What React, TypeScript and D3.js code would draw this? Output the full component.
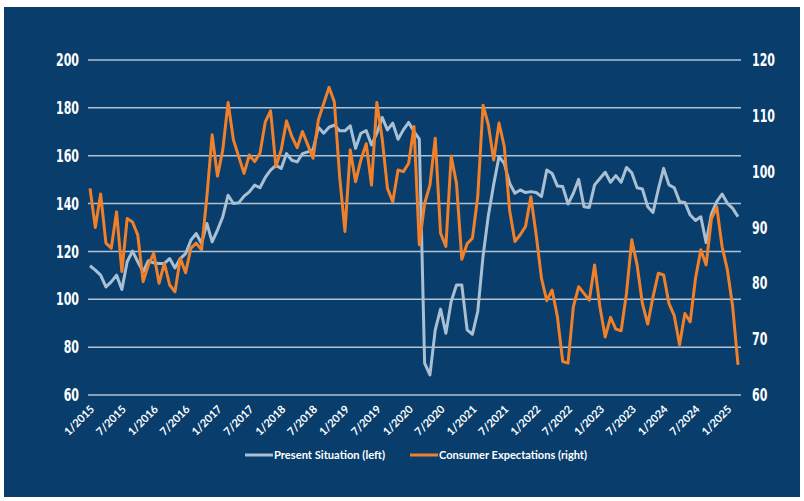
import React from "react";
import { scaleLinear, line } from "d3";

// monthly values, 1/2015 .. 3/2025
const presentSituation = [
  114.0, 112.2, 110.1, 105.2, 107.3, 110.1, 104.1, 115.7, 120.1, 115.7, 111.5, 116.1,
  115.2, 115.0, 115.0, 117.0, 113.1, 117.0, 119.1, 124.7, 127.5, 123.3, 131.7, 124.0,
  128.9, 134.5, 143.5, 140.0, 140.3, 143.1, 144.9, 147.7, 146.6, 150.9, 154.0, 156.0,
  154.7, 160.9, 158.1, 157.4, 160.9, 161.6, 162.5, 171.9, 169.4, 171.9, 172.8, 170.4,
  170.4, 172.5, 163.1, 169.4, 170.5, 164.5, 169.4, 176.0, 170.8, 173.6, 166.9, 170.8,
  173.9, 170.1, 166.9, 73.3, 68.4, 87.2, 95.9, 85.8, 99.1, 106.0, 106.0, 87.2,
  85.4, 94.9, 118.0, 135.0, 148.0, 159.6, 156.8, 148.5, 144.3, 145.7, 144.6, 145.0,
  144.6, 142.9, 154.0, 152.6, 147.3, 147.1, 139.8, 144.3, 150.1, 138.7, 138.4, 147.8,
  150.5, 153.1, 148.9, 151.7, 148.9, 155.1, 152.9, 146.6, 146.1, 138.7, 136.3, 146.0,
  154.7, 147.8, 146.6, 140.8, 140.5, 135.2, 132.9, 134.5, 123.7, 135.6, 140.8, 144.0,
  140.1, 138.0, 134.5,
];

const consumerExpectations = [
  97.0, 90.0, 96.0, 87.2, 86.3, 92.8, 82.1, 91.6, 91.0, 88.6, 80.3, 83.3,
  85.4, 80.0, 83.6, 79.7, 78.5, 84.5, 81.9, 86.3, 87.2, 86.0, 95.5, 106.6,
  99.2, 103.9, 112.4, 105.7, 102.7, 99.7, 103.0, 101.8, 103.3, 108.9, 110.9, 100.9,
  103.9, 109.1, 106.3, 104.3, 107.2, 104.8, 102.4, 109.3, 112.2, 115.1, 112.5, 99.1,
  89.3, 103.9, 98.2, 102.1, 105.0, 97.6, 112.4, 106.0, 97.0, 94.6, 100.3, 100.0,
  101.5, 108.1, 86.9, 94.3, 97.6, 106.0, 89.0, 86.6, 102.8, 97.9, 84.3, 87.1,
  88.1, 95.5, 111.9, 108.4, 102.1, 108.7, 104.5, 93.1, 87.5, 88.7, 90.2, 95.5,
  88.7, 80.9, 76.9, 78.8, 74.0, 66.0, 65.7, 75.8, 79.4, 78.2, 77.0, 83.3,
  75.8, 70.4, 73.9, 71.8, 71.5, 78.2, 87.8, 83.3, 76.4, 72.7, 77.6, 81.8,
  81.5, 76.4, 74.2, 69.0, 74.6, 73.1, 80.9, 86.0, 83.3, 91.6, 93.7, 86.6,
  82.4, 75.8, 65.4,
];

const xTickLabels = [
  "1/2015", "7/2015", "1/2016", "7/2016", "1/2017", "7/2017", "1/2018", "7/2018",
  "1/2019", "7/2019", "1/2020", "7/2020", "1/2021", "7/2021", "1/2022", "7/2022",
  "1/2023", "7/2023", "1/2024", "7/2024", "1/2025",
];
const leftTicks = [60, 80, 100, 120, 140, 160, 180, 200];
const rightTicks = [60, 70, 80, 90, 100, 110, 120];

const legendItems = [
  { label: "Present Situation (left)", color: "#a9bfd3" },
  { label: "Consumer Expectations (right)", color: "#f0802a" },
];

const W = 804, H = 501;
const top = 60, bottom = 395, gridLeft = 88, gridRight = 741;
const bg = "#083d6c";
const numFont = "'DejaVu Sans Condensed', 'Liberation Sans Narrow', sans-serif";
const textFont = "Lato, 'Open Sans', sans-serif";

// condensed axis numbers: squeeze horizontally around the anchor point
function Num({ x, y, anchor, v }: { x: number; y: number; anchor: string; v: number }) {
  return (
    <text transform={`translate(${x},${y}) scale(0.72,1)`} dy="0.36em" textAnchor={anchor}
      fill="#fff" fontFamily={numFont} fontWeight="bold" fontSize={17}>{v}</text>
  );
}

export default function App() {
  const x = scaleLinear().domain([0, presentSituation.length - 1]).range([90, 738]);
  const yL = scaleLinear().domain([60, 200]).range([bottom, top]);
  const yR = scaleLinear().domain([60, 120]).range([bottom, top]);

  const lineL = line<number>().x((_, i) => x(i)).y((d) => yL(d));
  const lineR = line<number>().x((_, i) => x(i)).y((d) => yR(d));

  return (
    <svg width={W} height={H} style={{ position: "absolute", left: 0, top: 0 }}>
      <rect x={0} y={0} width={W} height={H} fill="#fff" />
      <rect x={4} y={7} width={796} height={490} fill={bg} />

      {/* gridlines follow the left axis */}
      {leftTicks.map((t) => (
        <line key={t} x1={gridLeft} x2={gridRight} y1={yL(t)} y2={yL(t)}
          stroke="#b3c1d0" strokeWidth={1.5} />
      ))}

      {leftTicks.map((t) => (
        <Num key={"l" + t} x={79} y={yL(t)} anchor="end" v={t} />
      ))}
      {rightTicks.map((t) => (
        <Num key={"r" + t} x={752} y={yR(t)} anchor="start" v={t} />
      ))}

      {xTickLabels.map((lab, k) => (
        <text key={lab} transform={`translate(${x(k * 6) + 5},${410}) rotate(-45)`}
          textAnchor="end" fill="#fff" fontFamily={textFont} fontWeight="bold" fontSize={11}>{lab}</text>
      ))}

      <path d={lineL(presentSituation) || ""} fill="none" stroke={legendItems[0].color}
        strokeWidth={3} strokeLinejoin="round" />
      <path d={lineR(consumerExpectations) || ""} fill="none" stroke={legendItems[1].color}
        strokeWidth={3} strokeLinejoin="round" />

      {legendItems.map((it, k) => {
        const lx = k === 0 ? 245 : 410;
        return (
          <g key={it.label}>
            <line x1={lx} x2={lx + 28} y1={455} y2={455} stroke={it.color} strokeWidth={3} />
            <text x={lx + 29} y={455} dy="0.35em" fill="#fff" fontFamily={textFont}
              fontWeight="bold" fontSize={11}
              textLength={k === 0 ? 111 : 148} lengthAdjust="spacingAndGlyphs">{it.label}</text>
          </g>
        );
      })}
    </svg>
  );
}
